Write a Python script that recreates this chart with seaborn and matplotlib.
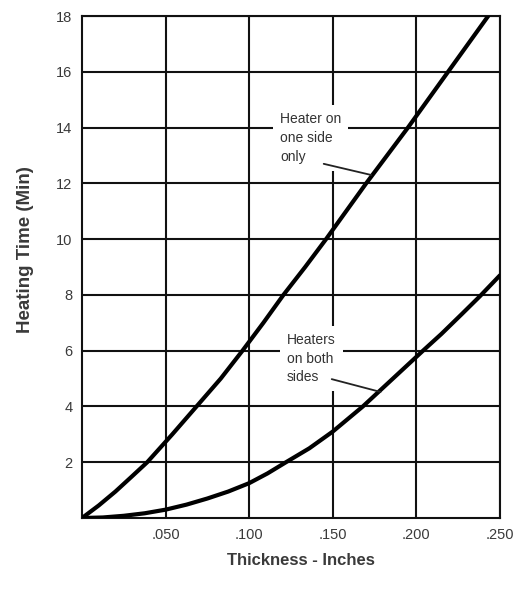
import pandas as pd
import seaborn as sns
import matplotlib.pyplot as plt

# values
one_side_x = [0.0, 0.010, 0.020, 0.030, 0.039, 0.054, 0.0685, 0.083, 0.096, 0.1085,
              0.1205, 0.1335, 0.146, 0.158, 0.170, 0.1825, 0.195, 0.207, 0.219, 0.231, 0.243]
one_side_y = [0.0, 0.45, 0.95, 1.5, 2.0, 3.0, 4.0, 5.0, 6.0, 7.0,
              8.0, 9.0, 10.0, 11.0, 12.0, 13.0, 14.0, 15.0, 16.0, 17.0, 18.0]
both_x = [0.0, 0.0125, 0.025, 0.0375, 0.050, 0.0625, 0.075, 0.0875, 0.100, 0.111, 0.122,
          0.136, 0.150, 0.159, 0.168, 0.177, 0.186, 0.195, 0.204, 0.215, 0.227, 0.238, 0.250]
both_y = [0.0, 0.02, 0.08, 0.17, 0.3, 0.48, 0.7, 0.95, 1.25, 1.6, 2.0,
          2.5, 3.1, 3.55, 4.0, 4.5, 5.0, 5.5, 6.0, 6.6, 7.3, 7.95, 8.7]
x_ticks = [0.05, 0.10, 0.15, 0.20, 0.25]
x_labels = [".050", ".100", ".150", ".200", ".250"]
y_ticks = [2, 4, 6, 8, 10, 12, 14, 16, 18]

df = pd.concat([
    pd.DataFrame({"x": one_side_x, "y": one_side_y, "case": "one"}),
    pd.DataFrame({"x": both_x, "y": both_y, "case": "both"}),
])

sns.set_style("white")
plt.rcParams["font.family"] = ["Liberation Sans", "DejaVu Sans"]

fig = plt.figure(figsize=(5.24, 5.89), dpi=100)
ax = fig.add_axes([0.1565, 0.1205, 0.7975, 0.8523])
sns.lineplot(data=df, x="x", y="y", units="case", estimator=None, sort=False,
             color="black", lw=3.0, ax=ax, zorder=3)

ax.set_xlim(0, 0.25)
ax.set_ylim(0, 18)
ax.set_xticks(x_ticks)
ax.set_xticklabels(x_labels)
ax.set_yticks(y_ticks)
ax.grid(True, color="#111111", lw=1.5)
for s in ax.spines.values():
    s.set_color("#111111")
    s.set_linewidth(1.5)
ax.tick_params(length=0, labelsize=10.5, colors="#3a3a3a", pad=7)

ax.set_xlabel("Thickness - Inches", fontsize=12, fontweight="bold", color="#3a3a3a")
ax.set_ylabel("Heating Time (Min)", fontsize=13.5, fontweight="bold", color="#3a3a3a")
ax.xaxis.set_label_coords(0.524, -0.070)
ax.yaxis.set_label_coords(-0.114, 0.534)

box = dict(facecolor="white", edgecolor="none", pad=5)
ax.text(0.1185, 14.55, "Heater on\none side\nonly", fontsize=10, color="#333333",
        va="top", ha="left", linespacing=1.45, bbox=box, zorder=4)
ax.plot([0.1446, 0.173], [12.7, 12.3], color="#222222", lw=1.3, zorder=4)

ax.text(0.1226, 6.65, "Heaters\non both\nsides", fontsize=10, color="#333333",
        va="top", ha="left", linespacing=1.45, bbox=box, zorder=4)
ax.plot([0.1494, 0.1786], [4.98, 4.52], color="#222222", lw=1.3, zorder=4)

fig.savefig("out.png", dpi=100)
